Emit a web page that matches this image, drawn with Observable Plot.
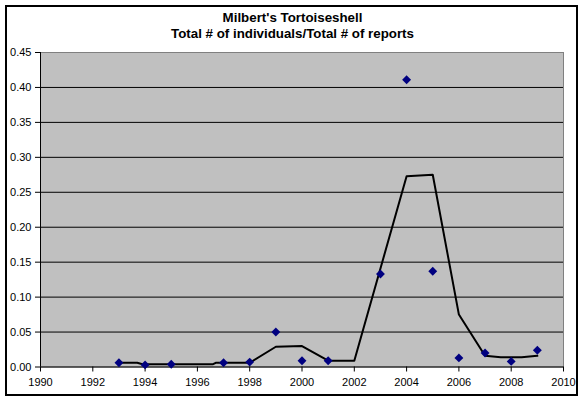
<!DOCTYPE html>
<html>
<head>
<meta charset="utf-8">
<script src="https://cdn.jsdelivr.net/npm/d3@7"></script>
<script src="https://cdn.jsdelivr.net/npm/@observablehq/plot@0.6"></script>
<style>
  html, body { margin: 0; padding: 0; background: white; }
  #wrap { position: relative; width: 585px; height: 401px; overflow: hidden; }
  #wrap svg { position: absolute; left: 0; top: 0; }
  #border { position: absolute; left: 5px; top: 5px; width: 569px; height: 387px; border: 2px solid black; pointer-events: none; }
  #title { position: absolute; left: 0; width: 585px; top: 10px; text-align: center;
           font-family: "Liberation Sans", Arial, sans-serif; font-weight: bold; font-size: 12px; line-height: 15.5px; color: #000; }
  #title span { white-space: nowrap; }
</style>
</head>
<body>
<div id="wrap">
  <div id="border"></div>
  <div id="title"><span id="t1">Milbert's Tortoiseshell</span><br><span id="t2">Total # of individuals/Total # of reports</span></div>
</div>
<script>
// Observed values (diamonds)
const years = [1993, 1994, 1995, 1997, 1998, 1999, 2000, 2001, 2003, 2004, 2005, 2006, 2007, 2008, 2009];
const ratios = [0.006, 0.003, 0.004, 0.006, 0.007, 0.050, 0.009, 0.009, 0.133, 0.411, 0.137, 0.013, 0.020, 0.008, 0.024];

// Trend line (2-period moving average as drawn)
const trendYears = [1993, 1993.7, 1993.9, 1996.6, 1996.7, 1998, 1999, 2000, 2001, 2002, 2004, 2005, 2006, 2007, 2007.6, 2008.4, 2009];
const trendValues = [0.006, 0.006, 0.004, 0.004, 0.006, 0.006, 0.029, 0.030, 0.009, 0.009, 0.273, 0.275, 0.075, 0.016, 0.014, 0.014, 0.016];

// Tick labels
const xTicks = [1990, 1992, 1994, 1996, 1998, 2000, 2002, 2004, 2006, 2008, 2010];
const yTicks = [0, 0.05, 0.10, 0.15, 0.20, 0.25, 0.30, 0.35, 0.40, 0.45];
const gridValues = yTicks.filter(v => v > 0 && v < 0.45);

const points = years.map((y, i) => ({year: y, value: ratios[i]}));
const trend = trendYears.map((y, i) => ({year: y, value: trendValues[i]}));

const chart = Plot.plot({
  width: 585,
  height: 401,
  marginLeft: 40,
  marginRight: 22,
  marginTop: 52,
  marginBottom: 34.5,
  style: {fontFamily: "'Liberation Sans', Arial, sans-serif", fontSize: "11px", background: "transparent", color: "black"},
  x: {domain: [1990, 2010]},
  y: {domain: [0, 0.45]},
  marks: [
    Plot.frame({fill: "#c0c0c0", stroke: "#808080", strokeWidth: 1}),
    Plot.ruleY(gridValues, {stroke: "black", strokeWidth: 1}),
    Plot.ruleX([1990], {stroke: "black", strokeWidth: 1}),
    Plot.ruleY([0], {stroke: "black", strokeWidth: 1}),
    Plot.axisX({ticks: xTicks, tickFormat: d => String(d), tickSize: 5, tickPadding: 6, label: null, stroke: "black", fill: "black"}),
    Plot.axisY({ticks: yTicks, tickFormat: d3.format(".2f"), tickSize: 5, tickPadding: 4, label: null, stroke: "black", fill: "black"}),
    Plot.line(trend, {x: "year", y: "value", stroke: "black", strokeWidth: 2}),
    Plot.dot(points, {x: "year", y: "value", symbol: "diamond2", r: 4, fill: "#000080", stroke: "none"})
  ]
});
document.getElementById("wrap").prepend(chart);

// Fit the title's second line to the reference width (~243px)
const t2 = document.getElementById("t2");
const w = t2.getBoundingClientRect().width;
if (w > 0) {
  const size = 12 * 243 / w;
  document.getElementById("title").style.fontSize = size.toFixed(2) + "px";
}
</script>
</body>
</html>
